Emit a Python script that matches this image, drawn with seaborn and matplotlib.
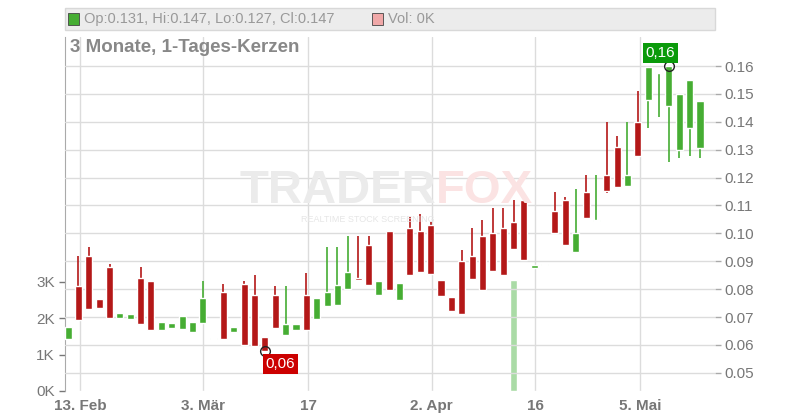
import numpy as np
import matplotlib
matplotlib.use('Agg')
import matplotlib.pyplot as plt
import seaborn as sns

# candle data, one entry per trading day
opens = [0.0623, 0.0811, 0.0919, 0.0766, 0.0880, 0.0698, 0.0694, 0.0840, 0.0829, 0.0655,
         0.0662, 0.0658, 0.0648, 0.0680, 0.0620, 0.0790, 0.0648, 0.0819, 0.0779, 0.0629,
         0.0779, 0.0634, 0.0655, 0.0779, 0.0694, 0.0739, 0.0743, 0.0802, 0.0840, 0.0958,
         0.0779, 0.1009, 0.0762, 0.1019, 0.1009, 0.1030, 0.0834, 0.0773, 0.0902, 0.0919,
         0.0991, 0.1000, 0.1019, 0.1041, 0.1120, 0.0875, 0.0888, 0.1080, 0.1120, 0.0932,
         0.1148, 0.1043, 0.1209, 0.1310, 0.1171, 0.1400, 0.1479, 0.1576, 0.1458, 0.1298,
         0.1379, 0.1307]
closes = [0.0666, 0.0691, 0.0730, 0.0734, 0.0698, 0.0715, 0.0712, 0.0676, 0.0655, 0.0683,
          0.0679, 0.0704, 0.0683, 0.0768, 0.0626, 0.0623, 0.0665, 0.0600, 0.0597, 0.0580,
          0.0662, 0.0675, 0.0675, 0.0655, 0.0768, 0.0790, 0.0815, 0.0862, 0.0833, 0.0816,
          0.0829, 0.0797, 0.0822, 0.0852, 0.0863, 0.0856, 0.0777, 0.0723, 0.0712, 0.0838,
          0.0798, 0.0866, 0.0852, 0.0944, 0.0906, 0.0886, 0.0890, 0.1003, 0.0960, 0.1000,
          0.1056, 0.1045, 0.1153, 0.1167, 0.1209, 0.1279, 0.1598, 0.1580, 0.1600, 0.1500,
          0.1550, 0.1475]
highs = [0.0666, 0.0919, 0.0952, 0.0766, 0.0890, 0.0715, 0.0712, 0.0880, 0.0829, 0.0683,
         0.0679, 0.0704, 0.0683, 0.0829, 0.0626, 0.0819, 0.0665, 0.0829, 0.0851, 0.0629,
         0.0811, 0.0811, 0.0675, 0.0858, 0.0768, 0.0951, 0.0951, 0.0991, 0.0991, 0.0991,
         0.0829, 0.1009, 0.0822, 0.1060, 0.1071, 0.1042, 0.0834, 0.0773, 0.0942, 0.1020,
         0.1049, 0.1092, 0.1092, 0.1120, 0.1141, 0.0886, 0.0890, 0.1148, 0.1132, 0.1159,
         0.1209, 0.1209, 0.1400, 0.1349, 0.1400, 0.1511, 0.1598, 0.1580, 0.1600, 0.1500,
         0.1550, 0.1475]
lows = [0.0623, 0.0691, 0.0730, 0.0734, 0.0698, 0.0698, 0.0694, 0.0676, 0.0655, 0.0655,
        0.0662, 0.0658, 0.0648, 0.0680, 0.0620, 0.0623, 0.0648, 0.0600, 0.0597, 0.0580,
        0.0662, 0.0634, 0.0655, 0.0655, 0.0694, 0.0739, 0.0743, 0.0802, 0.0833, 0.0816,
        0.0779, 0.0797, 0.0762, 0.0852, 0.0863, 0.0856, 0.0777, 0.0723, 0.0712, 0.0838,
        0.0798, 0.0866, 0.0852, 0.0944, 0.0906, 0.0875, 0.0888, 0.1003, 0.0960, 0.0932,
        0.1056, 0.1043, 0.1146, 0.1167, 0.1171, 0.1279, 0.1379, 0.1418, 0.1257, 0.1269,
        0.1279, 0.1269]
volumes = [0] * 62
volumes[43] = 3050

tick_pos = [1.15, 13.0, 23.2, 35.1, 45.1, 55.2]
tick_labels = ['13. Feb', '3. Mär', '17', '2. Apr', '16', '5. Mai']
price_ticks = [0.05, 0.06, 0.07, 0.08, 0.09, 0.10, 0.11, 0.12, 0.13, 0.14, 0.15, 0.16]
vol_ticks = [0, 1000, 2000, 3000]
vol_labels = ['0K', '1K', '2K', '3K']

sns.set_style('white')
plt.rcParams['font.family'] = ['Liberation Sans', 'DejaVu Sans']

GREEN = '#46ad33'
RED = '#b41818'
GRID = '#dcdcdc'
TXT = '#777777'

fig = plt.figure(figsize=(8, 4.2), dpi=100)
ax = fig.add_axes([65/800, 29/420, 650/800, 354/420])
ax2 = ax.twinx()

x = np.arange(len(opens))
ax.set_xlim(-0.3, 62.45)

# volume on left axis
ax.bar(x, volumes, width=0.68, color='#aadba6', zorder=1)
ax.set_ylim(0, 9700)
ax.set_yticks(vol_ticks)
ax.set_yticklabels(vol_labels)

# candles on right axis
for i in x:
    o, c, h, l = opens[i], closes[i], highs[i], lows[i]
    col = GREEN if c >= o else RED
    ax2.vlines(i, l, h, color=col, lw=1.2, zorder=3)
    ax2.bar(i, max(abs(c - o), 0.0004), bottom=min(o, c), width=0.68, color=col, zorder=4)
ax2.set_ylim(0.0435, 0.1704)
ax2.set_yticks(price_ticks)
ax2.set_yticklabels([f'{t:.2f}' for t in price_ticks])

ax.set_xticks(tick_pos)
ax.set_xticklabels(tick_labels, fontweight='bold')
ax.grid(axis='x', color=GRID, lw=1)
ax2.grid(axis='y', color=GRID, lw=1)
ax.set_axisbelow(True)
ax2.set_axisbelow(True)

for a in (ax, ax2):
    for s in a.spines.values():
        s.set_visible(False)
    a.tick_params(colors=TXT, labelsize=11, length=4, width=1)
ax.spines['left'].set_visible(True)
ax.spines['left'].set_color('#aaaaaa')
ax.tick_params(axis='x', length=0, pad=6)
ax2.tick_params(axis='y', color='#aaaaaa', labelsize=11, pad=3)

# watermark
fig.text(0.545, 0.545, 'TRADER', fontsize=34, fontweight='bold', color='#ebebeb',
         ha='right', va='center', zorder=0)
fig.text(0.545, 0.545, 'FOX', fontsize=34, fontweight='bold', color='#fbe3e3',
         ha='left', va='center', zorder=0)
fig.text(0.415 + 0.045, 0.478, 'REALTIME STOCK SCREENING', fontsize=6.5, color='#e6e6e6',
         ha='center', va='center', zorder=0)

# min / max markers
ax2.plot(58, highs[58], 'o', mfc='none', mec='#222222', ms=7, zorder=6)
ax2.text(57.2, 0.1623, '0,16', color='white', fontsize=11, ha='center', va='bottom',
         bbox=dict(boxstyle='square,pad=0.2', fc='#0a9a0a', ec='none'), zorder=7)
ax2.plot(19, lows[19], 'o', mfc='none', mec='#222222', ms=7, zorder=6)
ax2.text(20.5, 0.0557, '0,06', color='white', fontsize=11, ha='center', va='top',
         bbox=dict(boxstyle='square,pad=0.2', fc='#cc0000', ec='none'), zorder=7)

# header strip
fig.patches.append(plt.Rectangle((65/800, 390/420), 650/800, 22/420, transform=fig.transFigure,
                                 fc='#ececec', ec='#d8d8d8', zorder=0))
fig.patches.append(plt.Rectangle((68/800, 395/420), 11/800, 12/420, transform=fig.transFigure,
                                 fc=GREEN, ec='#444444', lw=0.6))
fig.text(84/800, 401/420, 'Op:0.131, Hi:0.147, Lo:0.127, Cl:0.147', fontsize=10.5,
         color='#999999', va='center')
fig.patches.append(plt.Rectangle((372/800, 395/420), 11/800, 12/420, transform=fig.transFigure,
                                 fc='#f0a8a8', ec='#444444', lw=0.6))
fig.text(388/800, 401/420, 'Vol: 0K', fontsize=10.5, color='#999999', va='center')
fig.text(70/800, 373/420, '3 Monate, 1-Tages-Kerzen', fontsize=13.5, fontweight='bold',
         color='#888888', va='center')

fig.savefig('out.png', dpi=100)
